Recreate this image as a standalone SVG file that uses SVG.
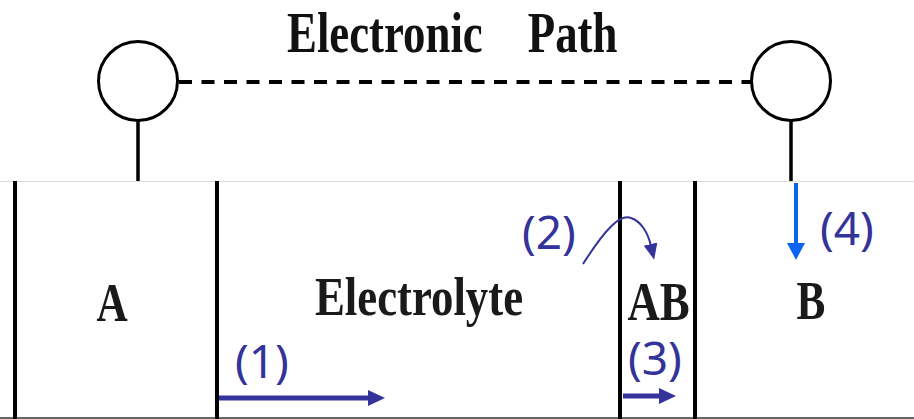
<svg xmlns="http://www.w3.org/2000/svg" width="914" height="419" viewBox="0 0 914 419">
  <style>
    .blk { stroke: #000; fill: none; }
    .lbl { font-family: "Liberation Serif", "Times New Roman", serif; font-weight: bold; fill: #1a1a1a; font-size: 54px; text-anchor: middle; }
    .num { font-family: "Noto Sans", "Open Sans", sans-serif; fill: #333399; font-size: 46px; }
    .navy { stroke: #333399; fill: none; }
    .blue { stroke: #0a64f0; fill: none; }
  </style>
  <defs>
    <marker id="hNavy" markerUnits="userSpaceOnUse" markerWidth="18" markerHeight="18" refX="1" refY="8" orient="auto">
      <path d="M0,0 L17,8 L0,16 Z" fill="#333399"/>
    </marker>
    <marker id="hNavyS" markerUnits="userSpaceOnUse" markerWidth="18" markerHeight="16" refX="2" refY="7" orient="auto">
      <path d="M0,0 L16,7 L0,14 Z" fill="#333399"/>
    </marker>
    <marker id="hBlue" markerUnits="userSpaceOnUse" markerWidth="18" markerHeight="20" refX="1" refY="9" orient="auto">
      <path d="M0,0 L17,9 L0,18 Z" fill="#0a64f0"/>
    </marker>
  </defs>
  <rect width="914" height="419" fill="#fff"/>

  <text transform="translate(287,52) scale(0.8,1)" font-family="Liberation Serif, Times New Roman, serif" font-weight="bold" font-size="56" fill="#111"><tspan x="0">Electronic</tspan><tspan x="301">Path</tspan></text>

  <g id="cell-frame">
    <line x1="0" y1="181.5" x2="914" y2="181.5" stroke="#dcdcdc" stroke-width="1"/>
    <line x1="0" y1="418" x2="914" y2="418" stroke="#666" stroke-width="2"/>
  </g>

  <g id="node-A">
    <line class="blk" x1="15" y1="181" x2="15" y2="419" stroke-width="4"/>
    <text class="lbl" transform="translate(112,321) scale(0.8,1)">A</text>
  </g>
  <g id="node-electrolyte">
    <line class="blk" x1="217" y1="181" x2="217" y2="419" stroke-width="4"/>
    <text class="lbl" transform="translate(419,315) scale(0.83,1)">Electrolyte</text>
  </g>
  <g id="node-AB">
    <line class="blk" x1="620" y1="181" x2="620" y2="419" stroke-width="4"/>
    <line class="blk" x1="695" y1="181" x2="695" y2="419" stroke-width="4"/>
    <text class="lbl" transform="translate(658.5,320) scale(0.83,1)">AB</text>
  </g>
  <g id="node-B">
    <text class="lbl" transform="translate(811,319) scale(0.8,1)">B</text>
  </g>
  <g id="node-terminal-left">
    <circle class="blk" cx="138" cy="81" r="39.5" stroke-width="3"/>
  </g>
  <g id="node-terminal-right">
    <circle class="blk" cx="791" cy="81" r="39.5" stroke-width="3"/>
  </g>

  <g id="connectors">
    <line class="blk" x1="179" y1="82" x2="751" y2="82" stroke-width="4" stroke-dasharray="13 9.5"/>
    <line class="blk" x1="138" y1="120" x2="138" y2="181" stroke-width="3.5"/>
    <line class="blk" x1="791" y1="120" x2="791" y2="181" stroke-width="3.5"/>
    <line class="navy" x1="219" y1="398" x2="369" y2="398" stroke-width="5" marker-end="url(#hNavy)"/>
    <line class="navy" x1="623" y1="396" x2="660" y2="396" stroke-width="5" marker-end="url(#hNavy)"/>
    <line class="blue" x1="796" y1="183" x2="796" y2="244" stroke-width="4" marker-end="url(#hBlue)"/>
    <path class="navy" d="M583,264 C606,228 620,214 631,218 C641,221 648,233 651,246" stroke-width="2" marker-end="url(#hNavyS)"/>
  </g>

  <g id="labels">
    <text class="num" x="235" y="378">(1)</text>
    <text class="num" x="522" y="249">(2)</text>
    <text class="num" x="628" y="375">(3)</text>
    <text class="num" x="820" y="245">(4)</text>
  </g>
</svg>
